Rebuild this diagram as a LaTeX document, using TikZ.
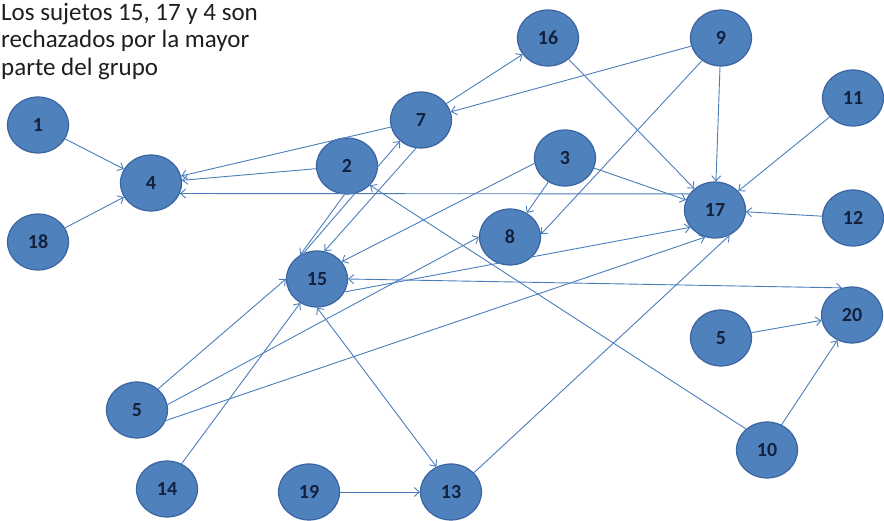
\documentclass[tikz,border=0pt]{standalone}
\usepackage{fontspec}
\setmainfont{Carlito}
\usepackage{tikz}
\usetikzlibrary{arrows.meta,shapes.geometric}
\definecolor{disk}{HTML}{4F81BD}
\definecolor{rim}{HTML}{3A64A0}
\definecolor{wire}{HTML}{4A7EBB}
\definecolor{numink}{HTML}{14213D}
\definecolor{note}{HTML}{1E1E1E}
\tikzset{
  sub/.style={ellipse,draw=rim,line width=1.2pt,fill=disk,minimum width=61pt,minimum height=56pt,inner sep=0pt,
    font=\fontsize{20}{20}\selectfont\bfseries,text=numink},
  arr/.style={-{Straight Barb[length=5pt,width=9pt]},draw=wire,line width=0.9pt},
  both/.style={arr,{Straight Barb[length=5pt,width=9pt]}-{Straight Barb[length=5pt,width=9pt]}},
  note/.style={font=\fontsize{25}{27.5}\selectfont,text=note,align=left,inner sep=0pt},
}
\begin{document}
\begin{tikzpicture}[x=1pt,y=-1pt]
  \useasboundingbox (0,0) rectangle (884,521);
  \node[note,anchor=north west] (txt) at (1,3) {Los sujetos 15, 17 y 4 son\\rechazados por la mayor\\parte del grupo};
  \node[sub] (n1) at (38,125) {1};
  \node[sub] (n4) at (151,183) {4};
  \node[sub] (n18) at (38,242) {18};
  \node[sub] (n7) at (421,120) {7};
  \node[sub] (n2) at (347,166) {2};
  \node[sub] (n16) at (548,38) {16};
  \node[sub] (n9) at (721,38) {9};
  \node[sub] (n11) at (853,98) {11};
  \node[sub] (n3) at (565,158) {3};
  \node[sub] (n17) at (715,210) {17};
  \node[sub] (n12) at (853,218) {12};
  \node[sub] (n8) at (510,237) {8};
  \node[sub] (n15) at (317,279) {15};
  \node[sub] (n5a) at (137,410) {5};
  \node[sub] (n14) at (167,489) {14};
  \node[sub] (n19) at (309,492) {19};
  \node[sub] (n13) at (451,492) {13};
  \node[sub] (n5b) at (721,338) {5};
  \node[sub] (n20) at (852,315) {20};
  \node[sub] (n10) at (767,450) {10};
  % rechazos
  \draw[arr] (n1) -- (n4);
  \draw[arr] (n18) -- (n4);
  \draw[arr] (n7) -- (n4);
  \draw[arr] (n2) -- (n4);
  \draw[arr] (n17.148) -- (n4.-20);
  \draw[arr] (n7) -- (n16);
  \draw[arr] (n9) -- (n7);
  \draw[arr] (n16) -- (n17);
  \draw[arr] (n9) -- (n17);
  \draw[arr] (n9.230) -- (n8.5);
  \draw[arr] (n11) -- (n17);
  \draw[arr] (n12) -- (n17);
  \draw[arr] (n3) -- (n17);
  \draw[arr] (n3) -- (n8);
  \draw[arr] (n3.190) -- (n15.35);
  \draw[arr] (n2.-95) -- (n15.125);
  \draw[arr] (n15.118) -- (n7.225);
  \draw[arr] (n7.-100) -- (n15.75);
  \draw[both] (n15.east) -- (n20.110);
  \draw[arr] (n15.-25) -- (n17.215);
  \draw[arr] (n5a.45) -- (n15.west);
  \draw[arr] (n5a.10) -- (n8.west);
  \draw[arr] (n5a.-20) -- (n17.250);
  \draw[arr] (n14.60) -- (n15.235);
  \draw[both] (n15.-90) -- (n13.120);
  \draw[arr] (n19) -- (n13);
  \draw[arr] (n13.40) -- (n17.-60);
  \draw[arr] (n10.135) -- (n2.-40);
  \draw[arr] (n10.60) -- (n20.240);
  \draw[arr] (n5b) -- (n20.190);
\end{tikzpicture}
\end{document}
